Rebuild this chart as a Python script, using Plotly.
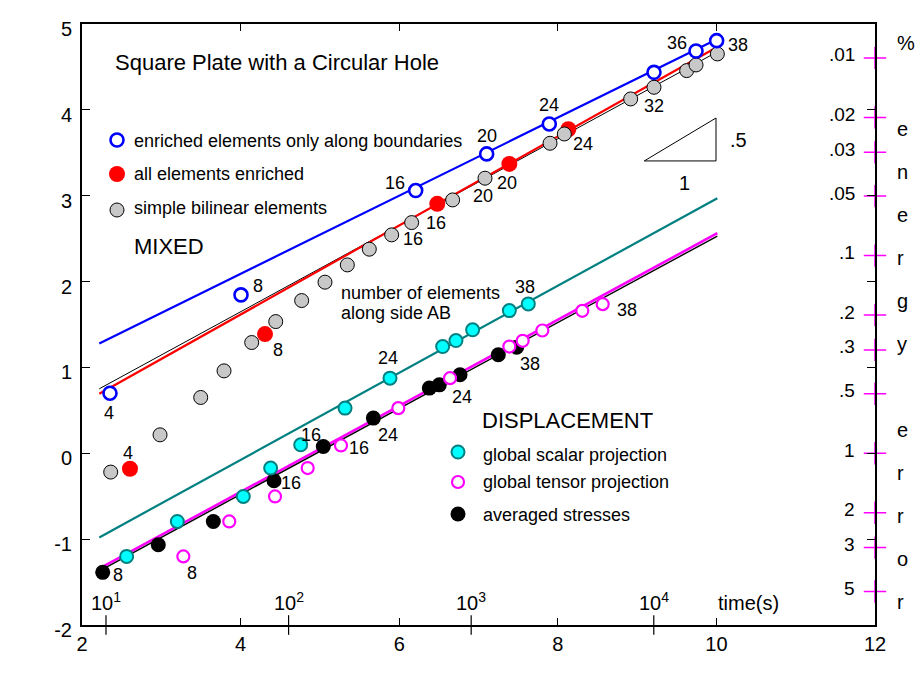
import numpy as np
import plotly.graph_objects as go

# ---------------- data ----------------
# MIXED: enriched elements only along boundaries (blue open)
blue_x = [2.353, 4.005, 6.208, 7.103, 7.893, 9.213, 9.743, 10.003]
blue_y = [0.70, 1.845, 3.06, 3.487, 3.836, 4.437, 4.686, 4.806]
blue_n = [4, 8, 16, 20, 24, None, 36, 38]

# MIXED: all elements enriched (red filled)
red_x = [2.605, 4.308, 6.48, 7.389, 8.133]
red_y = [-0.18, 1.388, 2.905, 3.37, 3.774]
red_n = [4, 8, 16, 20, 24]

# MIXED: simple bilinear elements (gray)
gray_x = [2.362, 2.984, 3.497, 3.791, 4.14, 4.443, 4.77, 5.064, 5.346, 5.623, 5.905,
          6.157, 6.674, 7.082, 7.902, 8.082, 8.919, 9.213, 9.625, 9.743, 10.012]
gray_y = [-0.219, 0.215, 0.650, 0.960, 1.29, 1.534, 1.779, 1.993, 2.194, 2.377, 2.544,
          2.687, 2.951, 3.204, 3.611, 3.719, 4.127, 4.263, 4.457, 4.523, 4.651]
gray_n = [None] * 10 + [16, None, None, 20, None, None, 32, None, None, None, None]

# DISPLACEMENT: global scalar projection (cyan)
cyan_x = [2.563, 3.202, 4.034, 4.379, 4.758, 5.317, 5.884, 6.548, 6.716, 6.926, 7.389, 7.628]
cyan_y = [-1.201, -0.794, -0.503, -0.172, 0.099, 0.526, 0.875, 1.243, 1.313, 1.438, 1.662, 1.740]
cyan_n = [None, None, None, None, 16, None, 24, None, None, None, None, 38]

# DISPLACEMENT: global tensor projection (magenta open)
mag_x = [3.278, 3.857, 4.434, 4.846, 5.266, 5.989, 6.641, 7.389, 7.557, 7.805, 8.309, 8.566]
mag_y = [-1.201, -0.794, -0.503, -0.172, 0.091, 0.526, 0.875, 1.243, 1.310, 1.430, 1.659, 1.737]
mag_n = [8, None, None, None, 16, None, 24, None, None, None, None, 38]

# DISPLACEMENT: averaged stresses (black)
blk_x = [2.261, 2.962, 3.656, 4.421, 5.043, 5.674, 6.380, 6.506, 6.767, 7.25, 7.481]
blk_y = [-1.387, -1.065, -0.794, -0.320, 0.079, 0.41, 0.759, 0.797, 0.914, 1.147, 1.236]
blk_n = [8, None, None, 16, None, 24, None, None, None, None, 38]

# fitted lines (end points)
blue_fit_x, blue_fit_y = [2.218, 10.0], [1.28, 4.82]
red_fit_x, red_fit_y = [2.218, 9.96], [0.693, 4.705]
gfit_x, gfit_y = [2.218, 9.98], [0.751, 4.66]
teal_fit_x, teal_fit_y = [2.218, 10.012], [-0.98, 2.971]
mag_fit_x, mag_fit_y = [2.269, 10.012], [-1.318, 2.563]
bfit_x, bfit_y = [2.24, 10.012], [-1.36, 2.53]

# axes / tick data
x_ticks = [2, 4, 6, 8, 10, 12]
y_ticks = [-2, -1, 0, 1, 2, 3, 4, 5]
time_exponents = [1, 2, 3, 4]
energy_pct = [0.01, 0.02, 0.03, 0.05, 0.1, 0.2, 0.3, 0.5, 1, 2, 3, 5]
energy_labels = [".01", ".02", ".03", ".05", ".1", ".2", ".3", ".5", "1", "2", "3", "5"]
side_letters = ["%", "e", "n", "e", "r", "g", "y", "e", "r", "r", "o", "r"]
side_rows = [0, 2, 3, 4, 5, 6, 7, 9, 10, 11, 12, 13]

# slope triangle
tri_x0, tri_y0, tri_run, tri_rise = 9.09, 3.405, 0.905, 0.5

# ---------------- styling / helpers ----------------
FONT = "Liberation Sans, Arial, Helvetica, sans-serif"
W, H = 920, 691
L, R, T, B = 82, 45, 24, 66
XR, YR = (2, 12), (-2, 5)
PW, PH = W - L - R, H - T - B


def X(px):
    return XR[0] + (px - L) / PW * (XR[1] - XR[0])


def Y(py):
    return YR[1] - (py - T) / PH * (YR[1] - YR[0])


fig = go.Figure()


def line(xs, ys, color, width):
    fig.add_trace(go.Scatter(x=xs, y=ys, mode="lines", line=dict(color=color, width=width),
                             showlegend=False, hoverinfo="skip"))


def pts(xs, ys, size, fill, lcolor, lwidth, clip=True, symbol="circle"):
    fig.add_trace(go.Scatter(x=xs, y=ys, mode="markers", showlegend=False, cliponaxis=clip,
                             marker=dict(size=size, color=fill, symbol=symbol,
                                         line=dict(color=lcolor, width=lwidth))))


# lines
line(blue_fit_x, blue_fit_y, "#0000FF", 2.2)
line(gfit_x, gfit_y, "#000000", 1)
line(red_fit_x, red_fit_y, "#FF0000", 2.2)
line(teal_fit_x, teal_fit_y, "#008080", 2.2)
line(mag_fit_x, mag_fit_y, "#FF00FF", 2.6)
line(bfit_x, bfit_y, "#000000", 1.4)

# points
pts(red_x, red_y, 16, "#FF0000", "#FF0000", 0)
pts(gray_x, gray_y, 14, "#C8C8C8", "#000000", 1)
pts(blue_x, blue_y, 13, "#FFFFFF", "#0000FF", 2.6)
pts(blk_x, blk_y, 15, "#000000", "#000000", 0)
pts(mag_x, mag_y, 12, "#FFFFFF", "#FF00FF", 2.2)
pts(cyan_x, cyan_y, 13, "#00FFFF", "#008080", 2)

# slope triangle
fig.add_trace(go.Scatter(
    x=[tri_x0, tri_x0 + tri_run, tri_x0 + tri_run, tri_x0],
    y=[tri_y0, tri_y0 + tri_rise, tri_y0, tri_y0],
    mode="lines", line=dict(color="black", width=1), showlegend=False, hoverinfo="skip"))

# time ticks (10^n) crossing the bottom axis
fig.add_trace(go.Scatter(x=[np.log(10.0 ** e) for e in time_exponents], y=[YR[0]] * len(time_exponents),
                         mode="markers", cliponaxis=False, showlegend=False,
                         marker=dict(symbol="line-ns", size=14, line=dict(color="black", width=1.2))))

# energy error crosses on right axis
energy_y = [-np.log(v) for v in energy_pct]
fig.add_trace(go.Scatter(x=[XR[1]] * len(energy_y), y=energy_y, mode="markers", cliponaxis=False,
                         showlegend=False,
                         marker=dict(symbol="cross-thin", size=16, line=dict(color="#FF00FF", width=1.5))))

# legend keys
pts([X(117)], [Y(140)], 13, "#FFFFFF", "#0000FF", 2.6)
pts([X(117)], [Y(174)], 16, "#FF0000", "#FF0000", 0)
pts([X(117)], [Y(210)], 14, "#C8C8C8", "#000000", 1)
pts([X(458)], [Y(452)], 13, "#00FFFF", "#008080", 2)
pts([X(458)], [Y(482)], 12, "#FFFFFF", "#FF00FF", 2.2)
pts([X(458)], [Y(514)], 15, "#000000", "#000000", 0)

ann = []


def text(x, y, s, size=18, xanchor="left", yanchor="middle", xref="x", yref="y", xshift=0, yshift=0):
    ann.append(dict(x=x, y=y, text=s, showarrow=False, xref=xref, yref=yref, xanchor=xanchor,
                    yanchor=yanchor, xshift=xshift, yshift=yshift,
                    font=dict(family=FONT, size=size, color="black")))


# point labels (pixel offsets: dx right, dy down)
label_offsets = {
    "blue": {4: (-1, 20), 8: (17, -9), 16: (-21, -8), 20: (0, -18), 24: (0, -19), 36: (-19, -8), 38: (21, 4)},
    "red": {4: (-2, -16), 8: (13, 16), 16: (-1, 19), 20: (-2, 19), 24: (15, 15)},
    "gray": {16: (21, 4), 20: (-2, 18), 32: (23, 7)},
    "cyan": {16: (10, -10), 24: (-2, -20), 38: (-3, -17)},
    "mag": {8: (9, 17), 16: (18, 3), 24: (12, 19), 38: (24, 6)},
    "blk": {8: (15, 3), 16: (17, 2), 24: (15, 17), 38: (13, 17)},
}
for key, xs, ys, ns in [("blue", blue_x, blue_y, blue_n), ("red", red_x, red_y, red_n),
                        ("gray", gray_x, gray_y, gray_n), ("cyan", cyan_x, cyan_y, cyan_n),
                        ("mag", mag_x, mag_y, mag_n), ("blk", blk_x, blk_y, blk_n)]:
    for x, y, n in zip(xs, ys, ns):
        if n is None:
            continue
        dx, dy = label_offsets[key][n]
        text(x, y, str(n), 18, xanchor="center", xshift=dx, yshift=-dy)

# headings / legend text
text(X(113), Y(62), "Square Plate with a Circular Hole", 22)
text(X(132), Y(141), "enriched elements only along boundaries", 18)
text(X(132), Y(174), "all elements enriched", 18)
text(X(132), Y(208), "simple bilinear elements", 18)
text(X(132), Y(246), "MIXED", 22)
text(X(339), Y(293), "number of elements", 18)
text(X(339), Y(313), "along side AB", 18)
text(X(480), Y(420), "DISPLACEMENT", 22)
text(X(481), Y(455), "global scalar projection", 18)
text(X(481), Y(482), "global tensor projection", 18)
text(X(481), Y(515), "averaged stresses", 18)
text(tri_x0 + tri_run, tri_y0 + tri_rise / 2, ".5", 20, xshift=12, yshift=-1)
text(tri_x0 + tri_run / 2 + 0.05, tri_y0, "1", 20, xanchor="center", yshift=-22)

# time labels
for e in time_exponents:
    text(np.log(10.0 ** e), Y(616), "10<sup>%d</sup>" % e, 20, xanchor="center", yanchor="bottom")
text(X(716), Y(616), "time(s)", 20, yanchor="bottom")

# energy labels on right
for v, lab in zip(energy_y, energy_labels):
    text(XR[1], v, lab, 19, xanchor="right", xshift=-18, yshift=3)
for ch, r in zip(side_letters, side_rows):
    text(XR[1], Y(43 + 43 * r), ch, 20, xanchor="left", xshift=20)

# axis titles
text(X(76), Y(325), "-ln|e%|", 20, xanchor="right")
text(X(511), Y(676), "ln (time)", 21, xanchor="center")

fig.update_layout(
    width=W, height=H, margin=dict(l=L, r=R, t=T, b=B, pad=0),
    paper_bgcolor="white", plot_bgcolor="white",
    font=dict(family=FONT, size=20, color="black"),
    annotations=ann,
    xaxis=dict(range=list(XR), tickvals=x_ticks, ticktext=[str(v) for v in x_ticks],
               ticks="inside", ticklen=7, tickwidth=1,
               tickcolor="black", showline=True, linecolor="black", linewidth=2, mirror="ticks",
               showgrid=False, zeroline=False, tickfont=dict(size=20, family=FONT)),
    yaxis=dict(range=list(YR), tickvals=y_ticks, ticktext=[str(v) for v in y_ticks],
               ticks="inside", ticklen=8, tickwidth=1,
               tickcolor="black", showline=True, linecolor="black", linewidth=2, mirror="ticks",
               showgrid=False, zeroline=False, tickfont=dict(size=20, family=FONT),
               ticklabelshift=5, ticklabelstandoff=4),
)

fig.write_html("out.html")
